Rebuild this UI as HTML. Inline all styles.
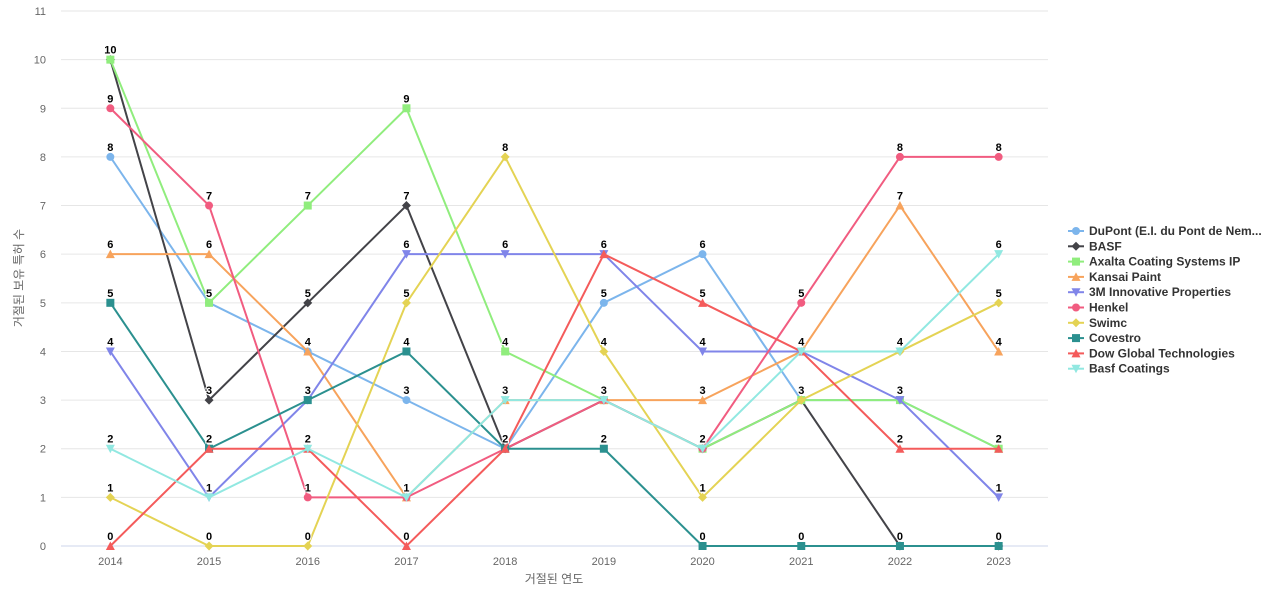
<!DOCTYPE html>
<html><head><meta charset="utf-8"><style>
body{margin:0;background:#fff;font-family:"Liberation Sans","Noto Sans CJK KR",sans-serif}
</style></head><body>
<svg id="c" width="1280" height="600" xmlns="http://www.w3.org/2000/svg" font-family="'Liberation Sans','Noto Sans CJK KR',sans-serif"></svg>
<script>
const categories=["2014","2015","2016","2017","2018","2019","2020","2021","2022","2023"];
const yTicks=[0,1,2,3,4,5,6,7,8,9,10,11];
const seriesNames=["DuPont (E.I. du Pont de Nem...","BASF","Axalta Coating Systems IP","Kansai Paint","3M Innovative Properties","Henkel","Swimc","Covestro","Dow Global Technologies","Basf Coatings"];
const dupont=[8,5,4,3,2,5,6,3,3,2];
const basf=[10,3,5,7,2,3,2,3,0,0];
const axalta=[10,5,7,9,4,3,2,3,3,2];
const kansai=[6,6,4,1,3,3,3,4,7,4];
const mmm=[4,1,3,6,6,6,4,4,3,1];
const henkel=[9,7,1,1,2,3,2,5,8,8];
const swimc=[1,0,0,5,8,4,1,3,4,5];
const covestro=[5,2,3,4,2,2,0,0,0,0];
const dow=[0,2,2,0,2,6,5,4,2,2];
const basfCoatings=[2,1,2,1,3,3,2,4,4,6];
const seriesValues=[dupont,basf,axalta,kansai,mmm,henkel,swimc,covestro,dow,basfCoatings];
const colors=["#7cb5ec","#434348","#90ed7d","#f7a35c","#8085e9","#f15c80","#e4d354","#2b908f","#f45b5b","#91e8e1"];
const markers=["circle","diamond","square","triangle","triangle-down","circle","diamond","square","triangle","triangle-down"];
const NS="http://www.w3.org/2000/svg";
const svg=document.getElementById('c');
const L=61,R=1048,T=11,B=546;
const x=i=>L+(R-L)/categories.length*(i+0.5);
const y=v=>B-(B-T)*v/11;
function el(t,a,p){const e=document.createElementNS(NS,t);for(const k in a)e.setAttribute(k,a[k]);(p||svg).appendChild(e);return e;}
yTicks.forEach(t=>{
  const g=el('line',{x1:L,x2:R,y1:y(t),y2:y(t),stroke:t===0?'#ccd6eb':'#e6e6e6','stroke-width':1});
  
  
  const tx=el('text',{x:46,y:y(t)+4,'text-anchor':'end','font-size':11,fill:'#666'});tx.textContent=t;
  
  
});
categories.forEach((c,i)=>{
  const tx=el('text',{x:x(i),y:565,'text-anchor':'middle','font-size':11,fill:'#666'});tx.textContent=c;
  
  
});
let xt=el('text',{x:554,y:583,'text-anchor':'middle','font-size':12,fill:'#666'});xt.textContent='거절된 연도';


let yt=el('text',{x:23,y:278,'text-anchor':'middle','font-size':12,fill:'#666',transform:'rotate(-90 23 278)'});yt.textContent='거절된 보유 특허 수';


function marker(type,cx,cy,col,p){
  let m;
  if(type==='circle')m=el('circle',{cx,cy,r:4,fill:col},p);
  else if(type==='square')m=el('rect',{x:cx-4,y:cy-4,width:8,height:8,fill:col},p);
  else if(type==='diamond')m=el('path',{d:`M${cx} ${cy-4.5}L${cx+4.5} ${cy}L${cx} ${cy+4.5}L${cx-4.5} ${cy}Z`,fill:col},p);
  else if(type==='triangle')m=el('path',{d:`M${cx} ${cy-4.5}L${cx+4.5} ${cy+4}L${cx-4.5} ${cy+4}Z`,fill:col},p);
  else m=el('path',{d:`M${cx} ${cy+4.5}L${cx+4.5} ${cy-4}L${cx-4.5} ${cy-4}Z`,fill:col},p);
  return m;
}
seriesValues.forEach((vals,s)=>{
  const g=el('g',{});
  
  
  const pl=el('polyline',{points:vals.map((v,i)=>x(i)+','+y(v)).join(' '),fill:'none',stroke:colors[s],'stroke-width':2},g);
  
  
  vals.forEach((v,i)=>{
    const m=marker(markers[s],x(i),y(v),colors[s],g);
    
    
  });
});
seriesValues.forEach((vals,s)=>{
  vals.forEach((v,i)=>{
    const t=el('text',{x:x(i),y:y(v)-6,'text-anchor':'middle','font-size':11,'font-weight':'bold',fill:'#000',stroke:'#fff','stroke-width':2,'paint-order':'stroke'});
    t.textContent=v;
    
    
  });
});
seriesNames.forEach((n,s)=>{
  const g=el('g',{});
  
  
  const ly=231+s*15.3;
  el('line',{x1:1068,x2:1084,y1:ly,y2:ly,stroke:colors[s],'stroke-width':2},g);
  marker(markers[s],1076,ly,colors[s],g);
  const t=el('text',{x:1089,y:ly+4,'font-size':12,'font-weight':'bold',fill:'#333'},g);t.textContent=n;
});
</script>
</body></html>
